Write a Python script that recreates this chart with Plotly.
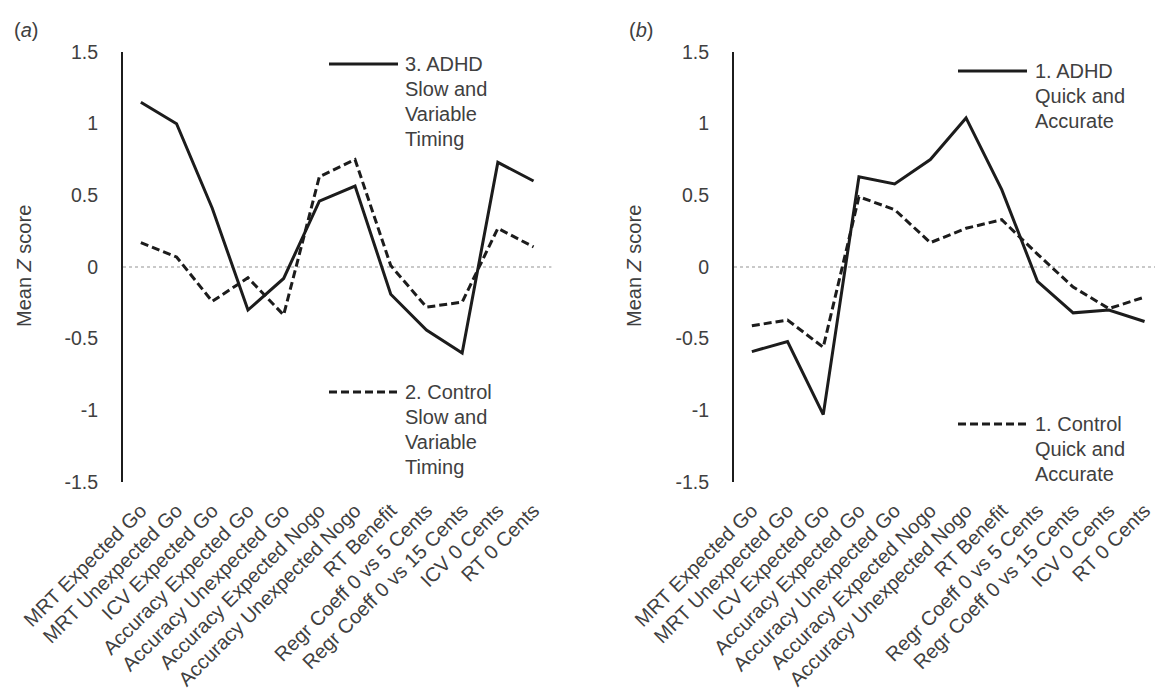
import plotly.graph_objects as go

categories = ["MRT Expected Go", "MRT Unexpected Go", "ICV Expected Go",
              "Accuracy Expected Go", "Accuracy Unexpected Go",
              "Accuracy Expected Nogo", "Accuracy Unexpected Nogo",
              "RT Benefit", "Regr Coeff 0 vs 5 Cents", "Regr Coeff 0 vs 15 Cents",
              "ICV 0 Cents", "RT 0 Cents"]

a_adhd = [1.15, 1.00, 0.41, -0.30, -0.08, 0.46, 0.565, -0.19, -0.44, -0.60, 0.73, 0.60]
a_control = [0.17, 0.07, -0.24, -0.075, -0.335, 0.63, 0.75, 0.01, -0.28, -0.245, 0.27, 0.14]
b_adhd = [-0.59, -0.52, -1.03, 0.63, 0.58, 0.75, 1.04, 0.54, -0.10, -0.32, -0.30, -0.38]
b_control = [-0.41, -0.37, -0.56, 0.49, 0.40, 0.17, 0.27, 0.33, 0.09, -0.14, -0.29, -0.21]

a_adhd_label = ["3. ADHD", "Slow and", "Variable", "Timing"]
a_control_label = ["2. Control", "Slow and", "Variable", "Timing"]
b_adhd_label = ["1. ADHD", "Quick and", "Accurate"]
b_control_label = ["1. Control", "Quick and", "Accurate"]

yticks = [-1.5, -1, -0.5, 0, 0.5, 1, 1.5]
ytick_text = ["-1.5", "-1", "-0.5", "0", "0.5", "1", "1.5"]

W, H = 1155, 695
FONT = "Arial, Liberation Sans, sans-serif"
TXT = "#404040"
LINE = "#1c1c1c"
DASH = "8px,4px"
FS = 20


def px(x):
    return x / W


def py(y):
    return 1 - y / H


fig = go.Figure()
fig.add_trace(go.Scatter(x=categories, y=a_adhd, mode="lines", xaxis="x", yaxis="y",
                         line=dict(color=LINE, width=3), showlegend=False))
fig.add_trace(go.Scatter(x=categories, y=a_control, mode="lines", xaxis="x", yaxis="y",
                         line=dict(color=LINE, width=3, dash=DASH), showlegend=False))
fig.add_trace(go.Scatter(x=categories, y=b_adhd, mode="lines", xaxis="x2", yaxis="y2",
                         line=dict(color=LINE, width=3), showlegend=False))
fig.add_trace(go.Scatter(x=categories, y=b_control, mode="lines", xaxis="x2", yaxis="y2",
                         line=dict(color=LINE, width=3, dash=DASH), showlegend=False))

xcommon = dict(type="category", showline=False, showgrid=False,
               zeroline=False, tickangle=-45, ticks="", ticklabelstandoff=12,
               tickfont=dict(size=FS, color=TXT, family=FONT), automargin=False)
ycommon = dict(range=[-1.5, 1.5], showline=True, linecolor=LINE, linewidth=2,
               showgrid=False, zeroline=False, ticks="", tickvals=yticks,
               ticktext=ytick_text, ticklabelstandoff=19,
               tickfont=dict(size=19.5, color=TXT, family=FONT), automargin=False)

ydom = [py(482), py(52)]
step = 35.7
# panel b is clipped by the right edge of the picture
b_right = 11.5 - (734 + 12 * step - W) / step
fig.update_layout(
    width=W, height=H, margin=dict(l=0, r=0, t=0, b=0),
    plot_bgcolor="white", paper_bgcolor="white",
    font=dict(family=FONT, color=TXT, size=FS),
    xaxis=dict(domain=[px(123), px(123 + 12 * step)], anchor="y", range=[-0.5, 11.5], **xcommon),
    yaxis=dict(domain=ydom, anchor="x", **ycommon),
    xaxis2=dict(domain=[px(734), 1.0], anchor="y2", range=[-0.5, b_right], **xcommon),
    yaxis2=dict(domain=ydom, anchor="x2", **ycommon),
)

shapes = []
annotations = []
for xr, yr in (("x", "y"), ("x2", "y2")):
    shapes.append(dict(type="line", xref=xr + " domain", yref=yr, x0=0, x1=1, y0=0, y1=0,
                       line=dict(color="#b8b8b8", width=1.5, dash="dot"), layer="below"))


def legend(x0, x1, y, xt, lines, dash):
    shapes.append(dict(type="line", xref="paper", yref="paper", x0=px(x0), x1=px(x1),
                       y0=py(y), y1=py(y), line=dict(color=LINE, width=3, dash=dash)))
    for i, t in enumerate(lines):
        annotations.append(dict(text=t, xref="paper", yref="paper", x=px(xt), y=py(y + 25 * i),
                                xanchor="left", yanchor="middle", showarrow=False,
                                font=dict(size=FS, color=TXT, family=FONT)))


legend(329, 398, 64, 403, a_adhd_label, "solid")
legend(329, 398, 392, 403, a_control_label, DASH)
legend(958, 1027, 71, 1033, b_adhd_label, "solid")
legend(958, 1027, 424, 1033, b_control_label, DASH)

annotations.append(dict(text="(<i>a</i>)", xref="paper", yref="paper", x=px(12), y=py(30),
                        xanchor="left", yanchor="middle", showarrow=False,
                        font=dict(size=FS, color=TXT, family=FONT)))
annotations.append(dict(text="(<i>b</i>)", xref="paper", yref="paper", x=px(627), y=py(30),
                        xanchor="left", yanchor="middle", showarrow=False,
                        font=dict(size=FS, color=TXT, family=FONT)))
for xc in (24, 634):
    annotations.append(dict(text="Mean <i>Z</i> score", xref="paper", yref="paper",
                            x=px(xc), y=py(266), xanchor="center", yanchor="middle",
                            textangle=-90, showarrow=False,
                            font=dict(size=FS, color=TXT, family=FONT)))

fig.update_layout(shapes=shapes, annotations=annotations)
fig.write_html("out.html")
